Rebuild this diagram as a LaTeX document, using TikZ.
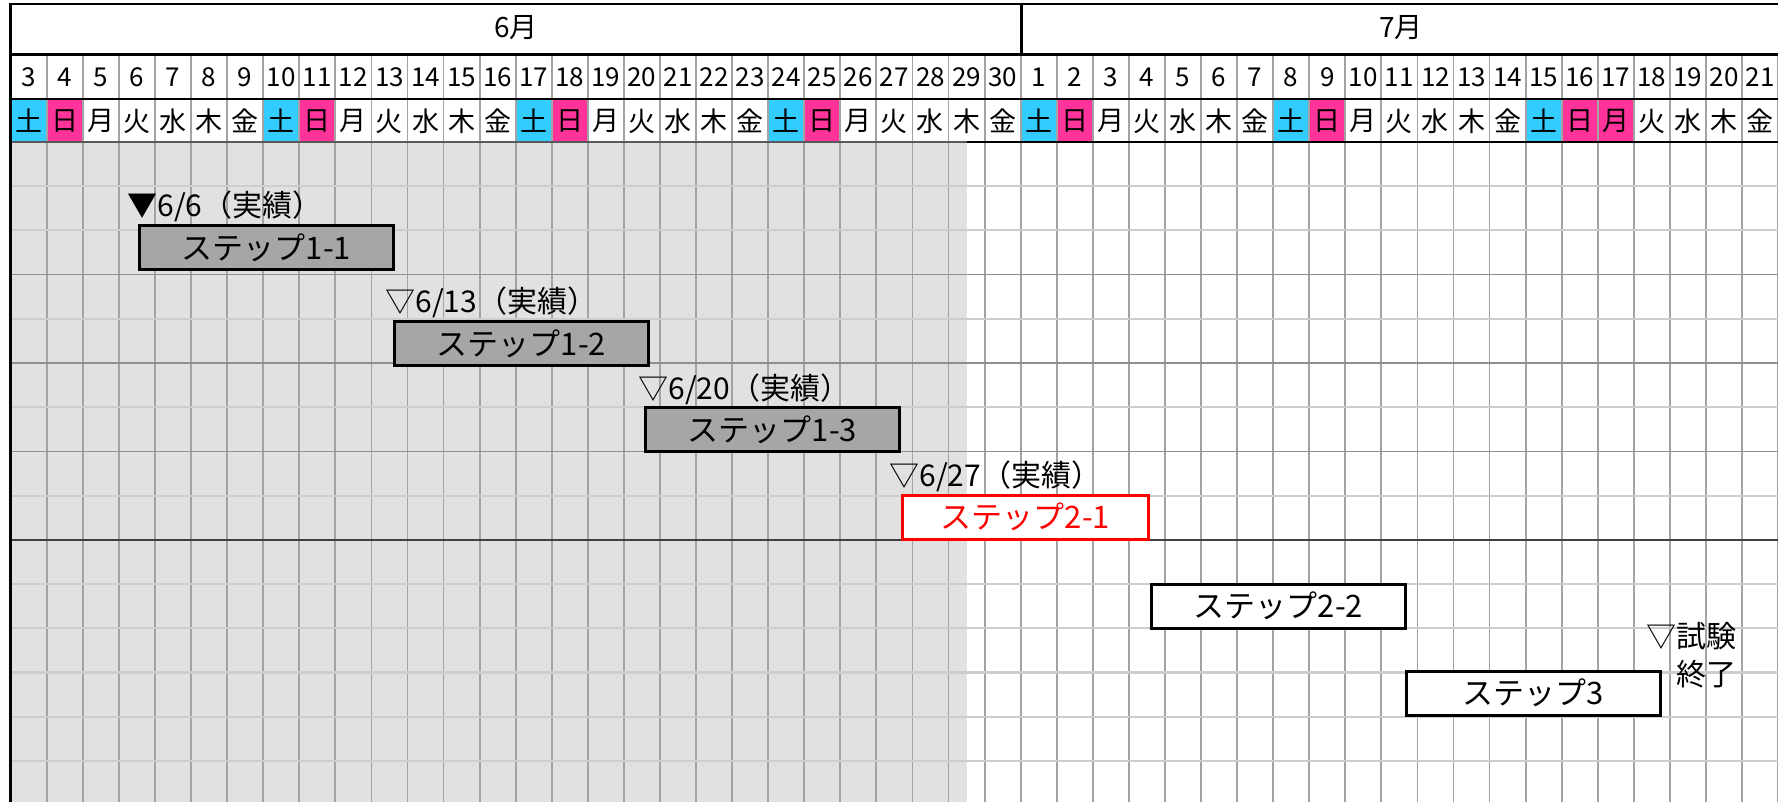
\documentclass[tikz,border=0pt]{standalone}
\usepackage{fontspec}
\usetikzlibrary{positioning,calc}
\newfontfamily\jpfont{Noto Sans CJK JP}
\definecolor{satcol}{HTML}{33CCFF}
\definecolor{suncol}{HTML}{FF3399}
\definecolor{donecol}{HTML}{E1E1E1}
\definecolor{barcol}{HTML}{A6A6A6}
\definecolor{vline}{HTML}{A3A3A3}
\definecolor{hline}{HTML}{CDCDCD}
\definecolor{hdark}{HTML}{8F8F8F}
\newcommand\youbi[1]{\ifcase#1 土\or 日\or 月\or 火\or 水\or 木\or 金\fi}
\tikzset{
  daynum/.style={font=\jpfont\fontsize{13}{15}\selectfont, inner sep=0pt},
  wday/.style={font=\jpfont\fontsize{13.5}{15}\selectfont, inner sep=0pt},
  month/.style={font=\jpfont\fontsize{14}{16}\selectfont, inner sep=0pt},
  stepbar/.style={draw=black, line width=1.5pt, fill=barcol, minimum width=127pt, minimum height=22pt, inner sep=0pt, font=\jpfont\fontsize{15.5}{17}\selectfont},
  nextbar/.style={stepbar, fill=white},
  nowbar/.style={stepbar, draw=red, fill=white, text=red},
  milestone/.style={anchor=base west, inner sep=0pt, font=\jpfont\fontsize{15}{19}\selectfont},
  gridv/.style={draw=vline, line width=0.9pt},
  gridh/.style={draw=hline, line width=1.1pt},
  gridd/.style={draw=hdark, line width=0.7pt},
  border/.style={line width=1.4pt},
}
\begin{document}
\begin{tikzpicture}[x=0.5pt,y=0.5pt,yscale=-1]
\useasboundingbox (0,0) rectangle (1778,802);

%Shape: Rectangle [done period]
\fill[donecol] (10.7,142) rectangle (967,802);

%Shape: weekday colours
\foreach \i in {0,...,48}{
  \pgfmathtruncatemacro{\w}{mod(\i,7)}
  \pgfmathtruncatemacro{\hol}{(\w==1)||(\i==44)}
  \pgfmathsetmacro{\xa}{10.7+36.07*\i}
  \ifnum\w=0 \fill[satcol] (\xa,99) rectangle ++(36.07,43); \fi
  \ifnum\hol=1 \fill[suncol] (\xa,99) rectangle ++(36.07,43); \fi
}

%Shape: Grid
\foreach \i in {1,...,49}
  \draw[gridv] ({10.7+36.07*\i},54.4) -- ({10.7+36.07*\i},802);
\foreach \k in {1,...,14}{
  \pgfmathsetmacro{\ya}{142+44.2*\k}
  \ifcase\k \or\draw[gridh] (10.7,\ya) -- (1778,\ya);
  \or\draw[gridh] (10.7,\ya) -- (1778,\ya);
  \or\draw[gridd] (10.7,\ya) -- (1778,\ya);
  \or\draw[gridh] (10.7,\ya) -- (1778,\ya);
  \or\draw[gridd] (10.7,\ya) -- (1778,\ya);
  \or\draw[gridh] (10.7,\ya) -- (1778,\ya);
  \or\draw[gridd] (10.7,\ya) -- (1778,\ya);
  \or\draw[gridh] (10.7,\ya) -- (1778,\ya);
  \or\draw[gridd, draw=black!75] (10.7,\ya) -- (1778,\ya);
  \else\draw[gridh] (10.7,\ya) -- (1778,\ya);
  \fi
}

%Straight Lines [header borders]
\draw[border] (10.7,4) -- (1778,4);
\draw[border] (10.7,54.4) -- (1778,54.4);
\draw[border] (10.7,99) -- (1778,99);
\draw[border, draw=black!65] (10.7,142) -- (967,142);
\draw[border] (967,142) -- (1778,142);
\draw[border] (10.7,3.3) -- (10.7,802);
\draw[border] (1021.7,4) -- (1021.7,54.4);

% Text Node
\node[month] (m6) at (516,28) {6月};
% Text Node
\node[month] (m7) at (1401,28) {7月};

% Text Node [days]
\foreach \i in {0,...,48}{
  \pgfmathtruncatemacro{\d}{\i<28 ? \i+3 : \i-27}
  \pgfmathtruncatemacro{\w}{mod(\i,7)}
  \pgfmathsetmacro{\xc}{10.7+36.07*(\i+0.5)}
  \node[daynum] (d\i) at (\xc,77) {\d};
  \node[wday] (w\i) at (\xc,121) {\youbi{\w}};
}

%Shape: Rectangle [steps]
\node[stepbar] (b11) at (266.5,247.5) {ステップ1-1};
\node[stepbar] (b12) at (521.5,343.3) {ステップ1-2};
\node[stepbar] (b13) at (772.5,429.7) {ステップ1-3};
\node[nowbar, minimum width=123pt] (b21) at (1025.5,517) {ステップ2-1};
\node[nextbar] (b22) at (1278.5,606) {ステップ2-2};
\node[nextbar] (b3) at (1533,693) {ステップ3};

% Text Node [milestones]
\node[milestone] (l11) at ($(b11.north west)+(-11,-7)$) {▼6/6（実績）};
\node[milestone] (l12) at ($(b12.north west)+(-8,-7)$) {▽6/13（実績）};
\node[milestone] (l13) at ($(b13.north west)+(-6,-7)$) {▽6/20（実績）};
\node[milestone] (l21) at ($(b21.north west)+(-12,-7)$) {▽6/27（実績）};
\node[milestone, anchor=north west, align=left] (lend) at (1646,622) {▽試験\\\hphantom{▽}終了};

\end{tikzpicture}
\end{document}
